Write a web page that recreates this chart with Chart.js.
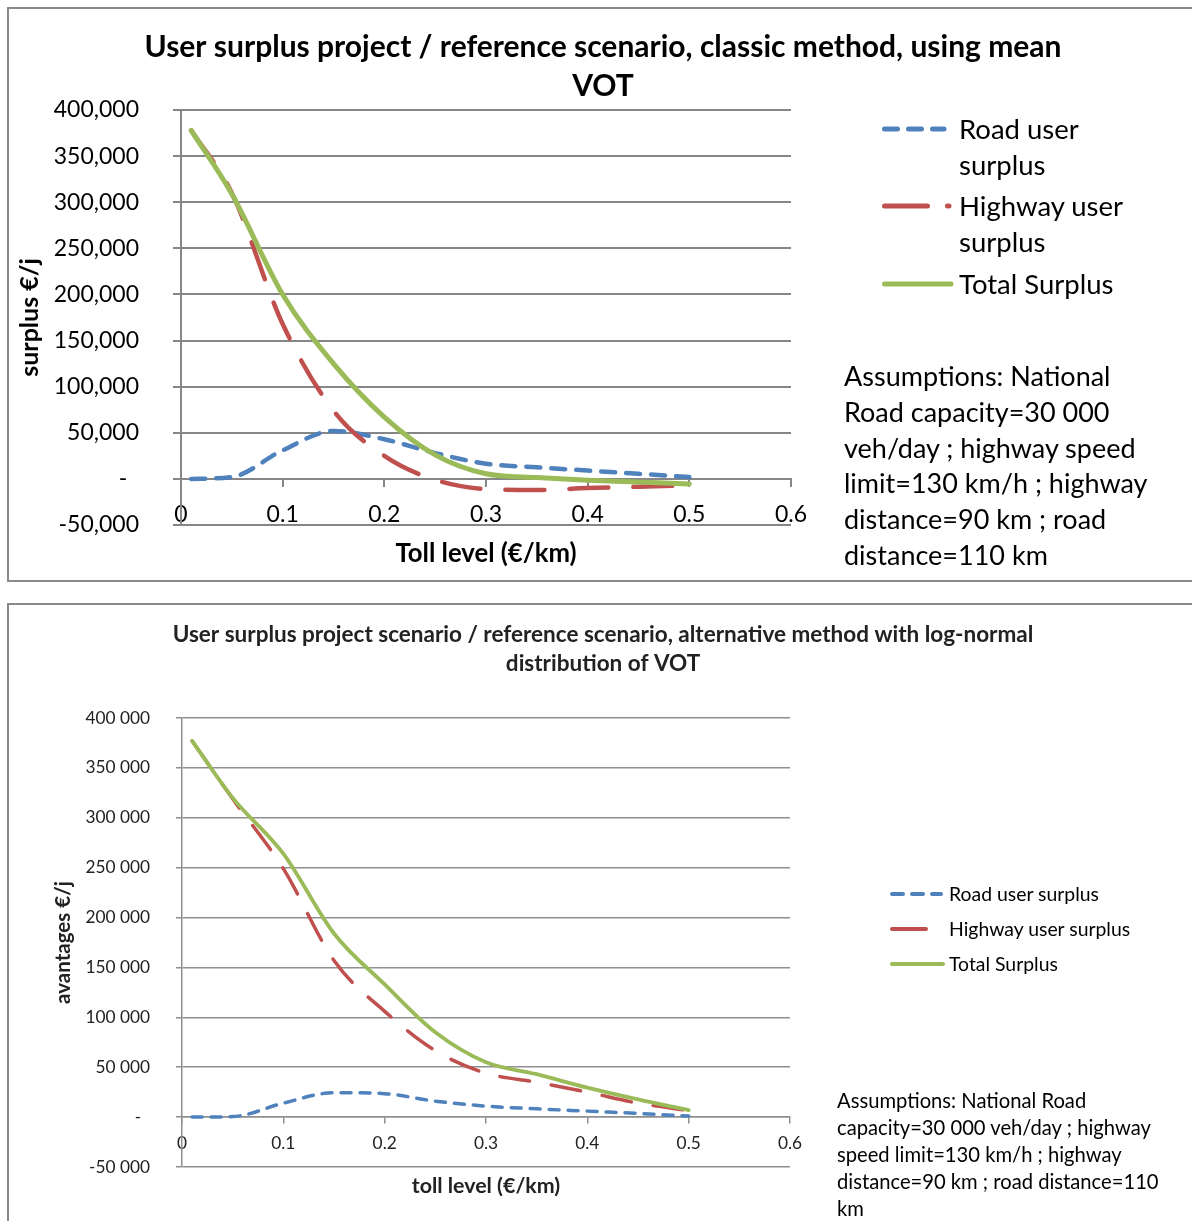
<!DOCTYPE html>
<html>
<head>
<meta charset="utf-8">
<script src="https://cdn.jsdelivr.net/npm/chart.js@4.4.1/dist/chart.umd.min.js"></script>
<style>
html, body { margin: 0; padding: 0; background: #fff; overflow: hidden; width: 1192px; height: 1221px; }
.box { position: absolute; left: 7px; width: 1220px; border: 2px solid #8a8a8a; box-sizing: border-box; }
#box1 { top: 7px; height: 575px; }
#box2 { top: 603px; height: 700px; }
canvas { position: absolute; left: 0; }
#c1 { top: 0; }
#c2 { top: 600px; }
.leg, .note { position: absolute; font-family: Lato, sans-serif; color: #000; }
.note { white-space: pre; }
svg.swatch { position: absolute; left: 0; top: 0; overflow: visible; }
</style>
</head>
<body>
<div class="box" id="box1"></div>
<div class="box" id="box2"></div>
<canvas id="c1" width="1192" height="590"></canvas>
<canvas id="c2" width="1192" height="621"></canvas>
<div id="extras"></div>
<script>
// toll levels (€/km) where the surplus was computed
var tollLevels = [0.01, 0.05, 0.1, 0.15, 0.2, 0.25, 0.3, 0.35, 0.4, 0.45, 0.5];

// classic method, mean VOT (€/j)
var roadClassic    = [0, 2000, 31000, 52000, 43000, 28000, 16500, 12500, 9000, 5500, 2000];
var highwayClassic = [378000, 310000, 168000, 74000, 25000, -1000, -11000, -12000, -10000, -8500, -7000];
var totalClassic   = [378000, 309000, 200000, 125000, 67000, 26000, 5500, 1500, -1500, -3500, -5500];

// alternative method, log-normal VOT (€/j)
var roadLognormal    = [0, 500, 14000, 24500, 23500, 16000, 11000, 8300, 6000, 3700, 1000];
var highwayLognormal = [377000, 319000, 249000, 157000, 106000, 66500, 44000, 35000, 25000, 14000, 6500];
var totalLognormal   = [377000, 320000, 264000, 184000, 133000, 85000, 55000, 43000, 29500, 17700, 7000];

var seriesNames = ['Road user surplus', 'Highway user surplus', 'Total Surplus'];
var xTickLabels = ['0', '0.1', '0.2', '0.3', '0.4', '0.5', '0.6'];
var yTickLabelsClassic = ['-50,000', '-  ', '50,000', '100,000', '150,000', '200,000', '250,000', '300,000', '350,000', '400,000'];
var yTickLabelsLognormal = ['-50 000', '-  ', '50 000', '100 000', '150 000', '200 000', '250 000', '300 000', '350 000', '400 000'];

var titleClassic = ['User surplus project / reference scenario, classic method, using mean', 'VOT'];
var titleLognormal = ['User surplus project scenario / reference scenario, alternative method with log-normal', 'distribution of VOT'];
var notesClassic = 'Assumptions: National\nRoad capacity=30 000\nveh/day ; highway speed\nlimit=130 km/h ; highway\ndistance=90 km ; road\ndistance=110 km';
var notesLognormal = 'Assumptions: National Road\ncapacity=30 000 veh/day ; highway\nspeed limit=130 km/h ; highway\ndistance=90 km ; road distance=110\nkm';

var blue = '#4F81BD', red = '#C0504D', green = '#9BBB59';

Chart.defaults.font.family = 'Lato, sans-serif';
Chart.defaults.color = '#000';

function points(xs, ys) {
    return xs.map(function (x, i) { return {x: x, y: ys[i]}; });
}

function makeChart(id, s) {
    var grid = s.gridColor;
    return new Chart(document.getElementById(id), {
        type: 'line',
        data: {
            datasets: [
                {label: seriesNames[0], data: points(tollLevels, s.road), borderColor: blue, borderWidth: s.lw, borderDash: s.blueDash, order: 2, xAxisID: 'x', yAxisID: 'y'},
                {label: seriesNames[1], data: points(tollLevels, s.highway), borderColor: red, borderWidth: s.lw, borderDash: s.redDash, order: 1, xAxisID: 'x', yAxisID: 'y'},
                {label: seriesNames[2], data: points(tollLevels, s.total), borderColor: green, borderWidth: s.lwTotal, order: 0, xAxisID: 'x', yAxisID: 'y'}
            ]
        },
        options: {
            responsive: false,
            animation: false,
            devicePixelRatio: 1,
            layout: {padding: {left: s.padLeft, right: 0, top: 0, bottom: s.padBottom}},
            elements: {
                point: {radius: 0},
                line: {cubicInterpolationMode: 'monotone', borderCapStyle: 'round', borderJoinStyle: 'round', fill: false}
            },
            plugins: {
                legend: {display: false},
                tooltip: {enabled: false},
                title: {
                    display: true, text: s.title, color: s.textColor,
                    font: {size: s.titleSize, weight: 'bold', lineHeight: s.titleLH},
                    padding: s.titlePad
                }
            },
            scales: {
                // bottom axis only carries the axis title
                x: {
                    type: 'linear', position: 'bottom', min: 0, max: 0.6,
                    ticks: {display: false, stepSize: 0.1},
                    grid: {display: false, drawTicks: false},
                    border: {display: false},
                    title: {display: true, text: s.xTitle, color: s.textColor, font: {size: s.xTitleSize, weight: 'bold'},
                        padding: {top: 0, bottom: s.xTitlePad}},
                    afterFit: function (sc) { sc.height = s.xHeight; }
                },
                // axis crossing at y = 0, with tick marks and labels
                xZero: {
                    type: 'linear', axis: 'x', position: {y: 0}, min: 0, max: 0.6,
                    ticks: {stepSize: 0.1, padding: s.xLabelPad, maxRotation: 0, autoSkip: false, color: s.textColor,
                        font: {size: s.tickSize}, callback: function (v, i) { return xTickLabels[i]; }},
                    grid: {drawOnChartArea: false, tickLength: s.xTick, color: grid, lineWidth: s.gridW},
                    border: {color: grid, width: s.gridW}
                },
                y: {
                    type: 'linear', position: 'left', min: -50000, max: 400000,
                    ticks: {stepSize: 50000, padding: s.yLabelPad, color: s.textColor, font: {size: s.tickSize},
                        callback: function (v, i) { return s.yLabels[i]; }},
                    grid: {color: grid, lineWidth: s.gridW, tickLength: s.yTick},
                    border: {color: grid, width: s.gridW},
                    title: {display: true, text: s.yTitle, color: s.textColor, font: {size: s.yTitleSize, weight: 'bold'},
                        padding: {top: s.yTitlePad, bottom: 0}},
                    afterFit: function (sc) { sc.width = s.yWidth; }
                },
                // empty right-hand space kept for the legend and notes
                side: {
                    type: 'linear', axis: 'y', position: 'right', min: 0, max: 1,
                    ticks: {display: false}, grid: {display: false}, border: {display: false},
                    afterFit: function (sc) { sc.width = s.sideWidth; }
                }
            }
        }
    });
}

var chart1 = makeChart('c1', {
    road: roadClassic, highway: highwayClassic, total: totalClassic,
    title: titleClassic, titleSize: 30, titleLH: 1.3, titlePad: {top: 28, bottom: 4},
    textColor: '#000', gridColor: '#868686', gridW: 2,
    lw: 4.5, lwTotal: 5, blueDash: [14, 11], redDash: [39, 25],
    padLeft: 14, padBottom: 5, yWidth: 167, sideWidth: 401, xHeight: 60,
    tickSize: 23, xLabelPad: 15, xTick: 7,
    xTitleSize: 25.7, xTitlePad: 15.6, yTitleSize: 25, yTitlePad: 1,
    yLabels: yTickLabelsClassic, yLabelPad: 34, yTick: 8,
    xTitle: 'Toll level (€/km)', yTitle: 'surplus €/j'
});

var chart2 = makeChart('c2', {
    road: roadLognormal, highway: highwayLognormal, total: totalLognormal,
    title: titleLognormal, titleSize: 22.5, titleLH: 1.289, titlePad: {top: 20.5, bottom: 39.5},
    textColor: '#222', gridColor: '#8f8f8f', gridW: 1.5,
    lw: 3.5, lwTotal: 3.8, blueDash: [10, 9], redDash: [30, 22],
    padLeft: 14, padBottom: 4, yWidth: 168, sideWidth: 402, xHeight: 50,
    tickSize: 17.3, xLabelPad: 9.5, xTick: 6,
    xTitleSize: 21.4, xTitlePad: 18.2, yTitleSize: 20.5, yTitlePad: 36.7,
    yLabels: yTickLabelsLognormal, yLabelPad: 26, yTick: 6,
    xTitle: 'toll level (€/km)', yTitle: 'avantages €/j'
});

// html legend + assumption notes, built from the chart datasets
var extras = document.getElementById('extras');
var svgNS = 'http://www.w3.org/2000/svg';
var svg = document.createElementNS(svgNS, 'svg');
svg.setAttribute('class', 'swatch');
svg.setAttribute('width', '1192');
svg.setAttribute('height', '1221');
extras.appendChild(svg);

function legend(chart, L) {
    chart.data.datasets.forEach(function (ds, i) {
        var ln = document.createElementNS(svgNS, 'line');
        ln.setAttribute('x1', L.x0);
        ln.setAttribute('x2', L.x1[i]);
        ln.setAttribute('y1', L.rows[i]);
        ln.setAttribute('y2', L.rows[i]);
        ln.setAttribute('stroke', ds.borderColor);
        ln.setAttribute('stroke-width', L.lw);
        ln.setAttribute('stroke-linecap', 'round');
        if (L.dash[i]) ln.setAttribute('stroke-dasharray', L.dash[i]);
        svg.appendChild(ln);

        var d = document.createElement('div');
        d.className = 'leg';
        d.textContent = ds.label;
        d.style.left = L.textX + 'px';
        d.style.top = (L.rows[i] - L.lh / 2) + 'px';
        d.style.width = L.textW + 'px';
        d.style.fontSize = L.size + 'px';
        d.style.lineHeight = L.lh + 'px';
        extras.appendChild(d);
    });
}

function note(text, x, y, size, lh) {
    var d = document.createElement('div');
    d.className = 'note';
    d.textContent = text;
    d.style.left = x + 'px';
    d.style.top = (y - lh / 2) + 'px';
    d.style.fontSize = size + 'px';
    d.style.lineHeight = lh + 'px';
    extras.appendChild(d);
}

legend(chart1, {x0: 884.5, x1: [944, 949, 951], rows: [129, 206, 284], lw: 5,
    dash: ['13 11', '43 20', null], textX: 959, textW: 180, size: 27.5, lh: 36});
legend(chart2, {x0: 892, x1: [941, 926, 943], rows: [894, 929, 964], lw: 4,
    dash: ['11 9', null, null], textX: 949, textW: 240, size: 19.4, lh: 22});

note(notesClassic, 844, 376, 27, 35.8);
note(notesLognormal, 837, 1100, 20.2, 27);
</script>
</body>
</html>
